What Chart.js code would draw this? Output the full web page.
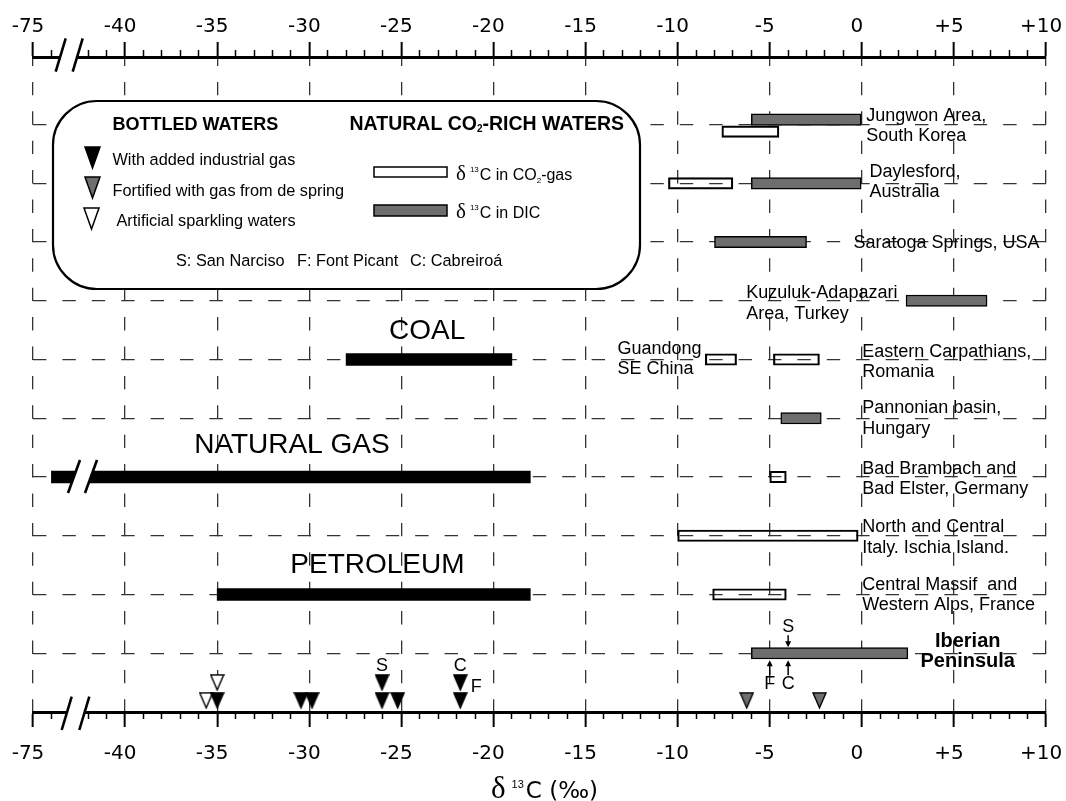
<!DOCTYPE html>
<html>
<head>
<meta charset="utf-8">
<script src="https://cdn.jsdelivr.net/npm/chart.js@4.4.1/dist/chart.umd.min.js"></script>
<style>
  html, body { margin: 0; padding: 0; background: #fff; }
</style>
</head>
<body>
<canvas id="chart" width="1066" height="801"></canvas>
<script>
// ---- data -------------------------------------------------------------
// axis is broken: values at or below -73 are shifted by +30 so -75 sits at -45
const axisTicks = [-45, -40, -35, -30, -25, -20, -15, -10, -5, 0, 5, 10];
const axisTickLabels = ['-75', '-40', '-35', '-30', '-25', '-20', '-15', '-10', '-5', '0', '+5', '+10'];

const siteNames = [
  ['Jungwon Area,', 'South Korea'],
  ['Daylesford,', 'Australia'],
  ['Saratoga Springs, USA'],
  ['Kuzuluk-Adapazari', 'Area, Turkey'],
  ['Eastern Carpathians,', 'Romania'],
  ['Pannonian basin,', 'Hungary'],
  ['Bad Brambach and', 'Bad Elster, Germany'],
  ['North and Central', 'Italy. Ischia Island.'],
  ['Central Massif  and', 'Western Alps, France'],
  ['Iberian', 'Peninsula']
];
const extraSite = ['Guandong', 'SE China']; // shares row 5

// d13C in CO2-gas (open bars)
const gasRow  = [1, 2, 5, 5, 7, 8, 9];
const gasLow  = [-7.6, -10.5, -8.5, -4.8, -5.0, -10.0, -8.1];
const gasHigh = [-4.5, -7.0, -6.8, -2.3, -4.1, -0.2, -4.1];

// d13C in DIC (grey bars)
const dicRow  = [1, 2, 3, 4, 6, 10];
const dicLow  = [-6.0, -6.0, -8.0, 2.4, -4.4, -6.0];
const dicHigh = [0, 0, -3.0, 6.8, -2.2, 2.5];

// reference carbon sources (black bars)
const sourceNames = ['COAL', 'NATURAL GAS', 'PETROLEUM'];
const sourceRow  = [5, 7, 9];
const sourceLow  = [-28, -74, -35];
const sourceHigh = [-19, -18, -18];

// bottled waters (triangles), level 1 = stacked on top
const industrialGas   = [-35.0, -30.45, -29.85, -26.05, -26.05, -25.2, -21.8, -21.8];
const industrialLevel = [0, 0, 0, 0, 1, 0, 0, 1];
const springGas       = [-6.25, -2.3];
const springLevel     = [0, 0];
const artificialGas   = [-35.6, -35.0];
const artificialLevel = [0, 1];

// brands on the Iberian DIC bar
const iberianBrand = ['S', 'F', 'C'];
const iberianValue = [-4, -5, -4];

// ---- layout helpers (not data) ---------------------------------------
const SANS = '"Liberation Sans", Arial, sans-serif';
const SERIF = '"Liberation Serif", "Times New Roman", serif';
const DEJA = '"DejaVu Sans", sans-serif';
const brk = v => (v <= -73 ? v + 30 : v);
const jungwonShift = { gas: 0.12, dic: -0.083 };
const levelY = l => 10.80 - 0.305 * l;

const siteLabelX  = [0.24, 0.42, -0.45, -6.27, 0.02, 0.02, 0.02, 0.02, 0.02, 5.75];
const siteLabelDy = [-8.4, -11.5, 1.4, -7.4, -7.8, -9.9, -8, -8.5, -9.5, -11.6];
const sourceLabelX  = [-23.6, -30.94, -26.3];
const sourceLabelDy = [-27.8, -32, -29.5];

const minorTicks = [];
for (let v = -44; v < 10; v++) {
  if (v % 5 !== 0 && v !== -43) minorTicks.push(v);
}

function tri(fill, w, h) {
  const c = document.createElement('canvas');
  c.width = w + 2; c.height = h + 2;
  const g = c.getContext('2d');
  g.beginPath();
  g.moveTo(1, 1); g.lineTo(w + 1, 1); g.lineTo(w / 2 + 1, h + 1); g.closePath();
  g.fillStyle = fill; g.fill();
  g.lineWidth = 1.4; g.strokeStyle = '#000'; g.stroke();
  return c;
}
const triBlack = tri('#000', 13, 15);
const triGrey = tri('#6e6e6e', 13, 15);
const triWhite = tri('#fff', 13, 15);

const gasBars = gasRow.map((r, i) => ({ x: [brk(gasLow[i]), brk(gasHigh[i])], y: r + (r === 1 ? jungwonShift.gas : 0) }));
const dicBars = dicRow.map((r, i) => ({ x: [brk(dicLow[i]), brk(dicHigh[i])], y: r + (r === 1 ? jungwonShift.dic : 0) }));
const sourceBars = sourceRow.map((r, i) => ({ x: [brk(sourceLow[i]), brk(sourceHigh[i])], y: r }));
const pts = (vals, lv) => vals.map((v, i) => ({ x: brk(v), y: levelY(lv[i]) }));

// ---- drawing helpers ---------------------------------------------------
function runs(ctx, x, y, parts) {
  for (const p of parts) {
    ctx.font = p.font;
    ctx.fillText(p.t, x, y + (p.dy || 0));
    x += ctx.measureText(p.t).width + (p.gap || 0);
  }
  return x;
}

function breakMark(ctx, s1, s2, bandTop, bandBot) {
  ctx.save();
  ctx.beginPath();
  ctx.rect(0, bandTop, 1066, bandBot - bandTop);
  ctx.clip();
  ctx.beginPath();
  ctx.moveTo(s1[0], s1[1]); ctx.lineTo(s2[0], s2[1]);
  ctx.lineTo(s2[2], s2[3]); ctx.lineTo(s1[2], s1[3]);
  ctx.closePath();
  ctx.fillStyle = '#fff';
  ctx.fill();
  ctx.restore();
  ctx.save();
  ctx.lineWidth = 2.6;
  ctx.strokeStyle = '#000';
  for (const s of [s1, s2]) {
    ctx.beginPath(); ctx.moveTo(s[0], s[1]); ctx.lineTo(s[2], s[3]); ctx.stroke();
  }
  ctx.restore();
}

function roundRect(ctx, x, y, w, h, r) {
  ctx.beginPath();
  ctx.moveTo(x + r, y);
  ctx.arcTo(x + w, y, x + w, y + h, r);
  ctx.arcTo(x + w, y + h, x, y + h, r);
  ctx.arcTo(x, y + h, x, y, r);
  ctx.arcTo(x, y, x + w, y, r);
  ctx.closePath();
}

function legendTri(ctx, fill, x, y) {
  ctx.beginPath();
  ctx.moveTo(x - 7.5, y); ctx.lineTo(x + 7.5, y); ctx.lineTo(x, y + 21); ctx.closePath();
  ctx.fillStyle = fill; ctx.fill();
  ctx.lineWidth = 1.5; ctx.strokeStyle = '#000'; ctx.stroke();
}

function arrow(ctx, x, yFrom, yTo) {
  const dir = yTo > yFrom ? 1 : -1;
  ctx.beginPath(); ctx.moveTo(x, yFrom); ctx.lineTo(x, yTo - dir * 3); ctx.stroke();
  ctx.beginPath();
  ctx.moveTo(x, yTo); ctx.lineTo(x - 3, yTo - dir * 6); ctx.lineTo(x + 3, yTo - dir * 6); ctx.closePath();
  ctx.fill();
}

const overlay = {
  id: 'overlay',
  afterDraw(chart) {
    const ctx = chart.ctx;
    const xs = chart.scales.x, ys = chart.scales.y;
    const X = v => xs.getPixelForValue(brk(v));
    const Y = r => ys.getPixelForValue(r);
    ctx.save();

    // axis breaks
    const topY = chart.scales.xTop.bottom, botY = xs.top;
    breakMark(ctx, [65.7, 38.3, 55.7, 71.7], [82.7, 38.3, 72.7, 71.7], topY - 3, topY + 3);
    breakMark(ctx, [71.7, 696.7, 61.7, 730], [89.3, 696.7, 79.3, 730], botY - 3, botY + 3);
    const gy = Y(sourceRow[1]);
    breakMark(ctx, [80, gy - 17, 68, gy + 16], [97, gy - 17, 85, gy + 16], gy - 7, gy + 7);

    ctx.fillStyle = '#000';
    ctx.strokeStyle = '#000';
    ctx.textBaseline = 'middle';

    // site labels
    siteNames.forEach((lines, i) => {
      const row = i + 1;
      if (row === 10) {
        ctx.font = 'bold 20px ' + SANS;
        ctx.textAlign = 'center';
      } else {
        ctx.font = '18px ' + SANS;
        ctx.textAlign = 'left';
      }
      lines.forEach((t, k) => ctx.fillText(t, X(siteLabelX[i]), Y(row) + siteLabelDy[i] + k * 20.3));
    });
    ctx.font = '18px ' + SANS;
    ctx.textAlign = 'left';
    extraSite.forEach((t, k) => ctx.fillText(t, X(-13.27), Y(5) - 10.2 + k * 20));

    // source labels
    ctx.font = '28px ' + SANS;
    ctx.textAlign = 'center';
    sourceNames.forEach((t, i) => ctx.fillText(t, X(sourceLabelX[i]), Y(sourceRow[i]) + sourceLabelDy[i]));

    // brand letters on bottled-water triangles
    ctx.font = '18px ' + SANS;
    const up = Y(levelY(1));
    ctx.fillText('S', X(-26.05), up - 16);
    ctx.fillText('C', X(-21.8), up - 16);
    ctx.fillText('F', X(-21.8) + 16, up + 4.5);

    // brands on Iberian bar
    ctx.lineWidth = 1.5;
    const iy = Y(10);
    iberianBrand.forEach((b, i) => {
      const x = X(iberianValue[i]);
      if (b === 'S') {
        arrow(ctx, x, iy - 18, iy - 6);
        ctx.fillText(b, x, iy - 26);
      } else {
        arrow(ctx, x, iy + 22, iy + 7);
        ctx.fillText(b, x, iy + 31);
      }
    });

    // legend box
    roundRect(ctx, 53, 101, 587, 188, 44);
    ctx.fillStyle = '#fff';
    ctx.fill();
    ctx.lineWidth = 2.2;
    ctx.strokeStyle = '#000';
    ctx.stroke();
    ctx.fillStyle = '#000';
    ctx.textAlign = 'left';
    ctx.textBaseline = 'alphabetic';
    runs(ctx, 112.5, 130, [{ t: 'BOTTLED WATERS', font: 'bold 18px ' + SANS }]);
    runs(ctx, 349.5, 130, [
      { t: 'NATURAL CO', font: 'bold 19.5px ' + SANS },
      { t: '2', font: 'bold 10px ' + SANS, dy: 2 },
      { t: '-RICH WATERS', font: 'bold 19.5px ' + SANS }
    ]);
    legendTri(ctx, '#000', 92.5, 147);
    legendTri(ctx, '#6e6e6e', 92.5, 177);
    legendTri(ctx, '#fff', 91.5, 208);
    ctx.fillStyle = '#000';
    ctx.font = '16.3px ' + SANS;
    ctx.fillText('With added industrial gas', 112.5, 165);
    ctx.fillText('Fortified with gas from de spring', 112.5, 196);
    ctx.fillText('Artificial sparkling waters', 116.5, 226);
    ctx.fillText('S: San Narciso', 176, 266);
    ctx.fillText('F: Font Picant', 297, 266);
    ctx.fillText('C: Cabreiroá', 410, 266);

    ctx.lineWidth = 1.5;
    ctx.fillStyle = '#fff';
    ctx.fillRect(374, 167, 73, 10); ctx.strokeRect(374, 167, 73, 10);
    ctx.fillStyle = '#6e6e6e';
    ctx.fillRect(374, 205, 73, 11); ctx.strokeRect(374, 205, 73, 11);
    ctx.fillStyle = '#000';
    runs(ctx, 456, 180, [
      { t: 'δ', font: '21px ' + SERIF, gap: 4 },
      { t: '13', font: '8px ' + SANS, dy: -8, gap: 1 },
      { t: 'C in CO', font: '16px ' + SANS },
      { t: '2', font: '8px ' + SANS, dy: 3 },
      { t: '-gas', font: '16px ' + SANS }
    ]);
    runs(ctx, 456, 218, [
      { t: 'δ', font: '21px ' + SERIF, gap: 4 },
      { t: '13', font: '8px ' + SANS, dy: -8, gap: 1 },
      { t: 'C in DIC', font: '16px ' + SANS }
    ]);

    // axis title
    runs(ctx, 491, 798, [
      { t: 'δ', font: '31px ' + SERIF, gap: 6 },
      { t: '13', font: '11px ' + SANS, dy: -10, gap: 2 },
      { t: 'C (‰)', font: '23px ' + DEJA }
    ]);
    ctx.restore();
  }
};

const tickFont = { family: '"DejaVu Sans", sans-serif', size: 20 };
const noSidePadding = s => { s.paddingLeft = 0; s.paddingRight = 0; };
const majorAxis = (position, pad, gridOnArea) => ({
  type: 'linear', position, min: -45, max: 10, weight: 1, offset: false,
  afterBuildTicks: s => { s.ticks = axisTicks.map(v => ({ value: v })); },
  afterFit: s => { s.height = position === 'top' ? 57 : 89; noSidePadding(s); },
  grid: {
    offset: false, drawOnChartArea: gridOnArea, drawTicks: true,
    color: '#333', lineWidth: 1.3,
    tickLength: 15, tickWidth: 2, tickColor: '#000'
  },
  border: { display: true, width: 3, color: '#000', dash: [13.4, 16], dashOffset: 6.5 },
  ticks: {
    color: '#000', font: tickFont, padding: pad, labelOffset: -5, maxRotation: 0,
    autoSkip: false,
    callback: v => axisTickLabels[axisTicks.indexOf(v)]
  }
});
const minorAxis = position => ({
  type: 'linear', position, min: -45, max: 10, weight: 0, offset: false,
  afterBuildTicks: s => { s.ticks = minorTicks.map(v => ({ value: v })); },
  afterFit: s => { s.height = 0; noSidePadding(s); },
  grid: { offset: false, drawOnChartArea: false, drawTicks: true, tickLength: 7, tickWidth: 1.5, tickColor: '#000' },
  border: { display: false },
  ticks: { display: false }
});

new Chart(document.getElementById('chart'), {
  type: 'bar',
  data: {
    datasets: [
      {
        type: 'scatter', label: 'With added industrial gas',
        data: pts(industrialGas, industrialLevel), pointStyle: triBlack, pointRadius: 8
      },
      {
        type: 'scatter', label: 'Fortified with gas from de spring',
        data: pts(springGas, springLevel), pointStyle: triGrey, pointRadius: 8
      },
      {
        type: 'scatter', label: 'Artificial sparkling waters',
        data: pts(artificialGas, artificialLevel), pointStyle: triWhite, pointRadius: 8
      },
      {
        type: 'bar', label: 'CO2-gas', indexAxis: 'y', grouped: false,
        data: gasBars, backgroundColor: 'rgba(255,255,255,0)', borderColor: '#000',
        borderWidth: 1.5, borderSkipped: false, barThickness: 11.5
      },
      {
        type: 'bar', label: 'DIC', indexAxis: 'y', grouped: false,
        data: dicBars, backgroundColor: '#6e6e6e', borderColor: '#000',
        borderWidth: 1.5, borderSkipped: false, barThickness: 11.5
      },
      {
        type: 'bar', label: 'sources', indexAxis: 'y', grouped: false,
        data: sourceBars, backgroundColor: '#000', borderWidth: 0, barThickness: 12
      }
    ]
  },
  options: {
    responsive: false,
    animation: false,
    events: [],
    layout: { padding: { left: 33, right: 20, top: 0, bottom: 0 } },
    plugins: { legend: { display: false }, tooltip: { enabled: false } },
    scales: {
      x: majorAxis('bottom', 14.5, false),
      xTop: majorAxis('top', 3, true),
      xMinorBottom: minorAxis('bottom'),
      xMinorTop: minorAxis('top'),
      y: {
        type: 'linear', position: 'left', reverse: true, min: -0.15, max: 11, offset: false,
        afterBuildTicks: s => { s.ticks = siteNames.map((n, i) => ({ value: i + 1 })); },
        afterFit: s => { s.width = 0; },
        grid: { offset: false, color: '#333', lineWidth: 1.3, drawTicks: false },
        border: { display: false, dash: [13.4, 16] },
        ticks: { display: false }
      }
    }
  },
  plugins: [overlay]
});
</script>
</body>
</html>
